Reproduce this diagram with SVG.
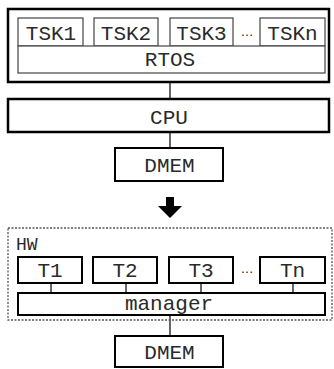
<svg xmlns="http://www.w3.org/2000/svg" width="334" height="369" viewBox="0 0 334 369">
<style>
.bg{fill:#fff}
.thin{fill:#fff;stroke:#444;stroke-width:1.2}
.thick{fill:#fff;stroke:#000;stroke-width:2.5}
.med{fill:#fff;stroke:#000;stroke-width:2}
.dash{fill:none;stroke:#555;stroke-width:1.3;stroke-dasharray:2 1.5}
.t{font-family:"Liberation Mono","Courier New",monospace;font-size:21px;fill:#2a2a2a;text-anchor:middle}
.lab{font-family:"Liberation Mono","Courier New",monospace;font-size:18px;fill:#2a2a2a}
.dots{font-family:"Liberation Sans",Arial,sans-serif;font-size:13px;fill:#222;text-anchor:middle}
.c{stroke:#000;stroke-width:1.2;fill:none}
</style>
<rect class="bg" x="0" y="0" width="334" height="369"/>
<g id="connectors">
  <line class="c" x1="170" y1="82" x2="170" y2="99"/>
  <line class="c" x1="170" y1="132" x2="170" y2="148"/>
  <line class="c" x1="51" y1="283" x2="51" y2="293"/>
  <line class="c" x1="126" y1="283" x2="126" y2="293"/>
  <line class="c" x1="201" y1="283" x2="201" y2="293"/>
  <line class="c" x1="293" y1="283" x2="293" y2="293"/>
  <line class="c" x1="170" y1="315" x2="170" y2="336"/>
  <polygon points="166,197 174,197 174,206 182,206 170,218 158,206 166,206" fill="#000"/>
</g>
<g id="sw">
  <rect class="thick" x="8" y="9" width="321" height="73"/>
</g>
<g id="tsk1"><rect class="thin" x="18" y="18" width="65" height="28"/><text class="t" x="51" y="40">TSK1</text></g>
<g id="tsk2"><rect class="thin" x="94" y="18" width="64" height="28"/><text class="t" x="126" y="40">TSK2</text></g>
<g id="tsk3"><rect class="thin" x="170" y="18" width="63" height="28"/><text class="t" x="201.5" y="40">TSK3</text></g>
<text class="dots" x="247" y="35.5">…</text>
<g id="tskn"><rect class="thin" x="260" y="18" width="65" height="28"/><text class="t" x="292.5" y="40">TSKn</text></g>
<g id="rtos"><rect class="thin" x="18" y="46" width="307" height="27"/><text class="t" x="170" y="66">RTOS</text></g>
<g id="cpu"><rect class="thick" x="8" y="99" width="321" height="33"/><text class="t" x="169" y="124">CPU</text></g>
<g id="dmem1"><rect class="med" x="115" y="148" width="108" height="33"/><text class="t" x="169.5" y="172">DMEM</text></g>
<g id="hw">
  <rect class="dash" x="8" y="228" width="324" height="92"/>
  <text class="lab" x="16" y="250">HW</text>
</g>
<g id="t1"><rect class="med" x="18" y="257" width="64" height="26"/><text class="t" x="50" y="277">T1</text></g>
<g id="t2"><rect class="med" x="93" y="257" width="64" height="26"/><text class="t" x="125" y="277">T2</text></g>
<g id="t3"><rect class="med" x="169" y="257" width="64" height="26"/><text class="t" x="201" y="277">T3</text></g>
<text class="dots" x="247" y="272.5">…</text>
<g id="tn"><rect class="med" x="260" y="257" width="65" height="26"/><text class="t" x="292.5" y="277">Tn</text></g>
<g id="manager"><rect class="med" x="18" y="293" width="307" height="22"/><text class="t" x="169" y="310">manager</text></g>
<g id="dmem2"><rect class="med" x="115" y="336" width="108" height="31"/><text class="t" x="169.5" y="359">DMEM</text></g>
</svg>
